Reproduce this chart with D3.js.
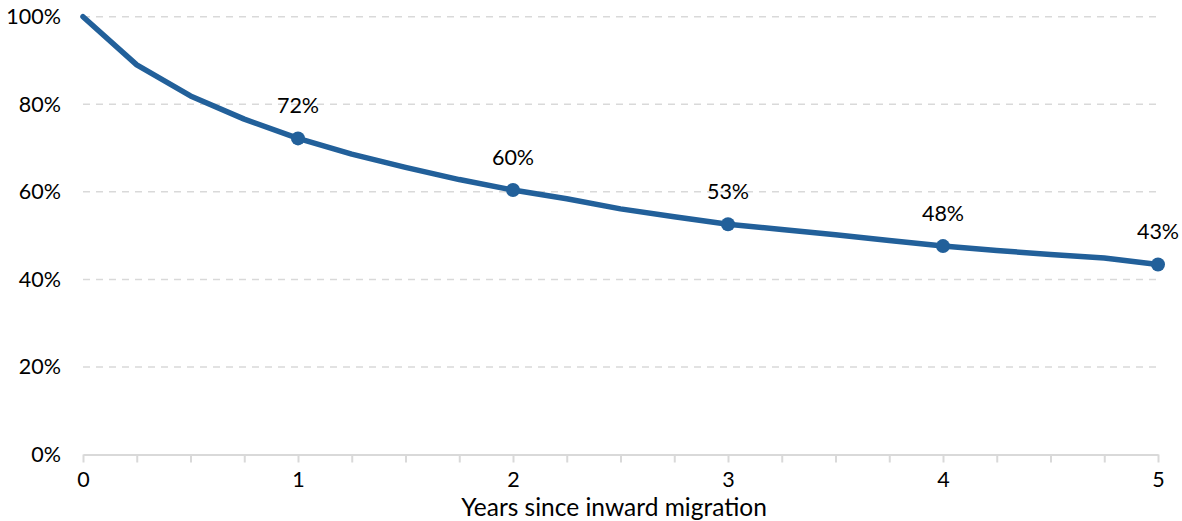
<!DOCTYPE html>
<html><head><meta charset="utf-8">
<script src="https://cdn.jsdelivr.net/npm/d3@7"></script>
<style>body{margin:0;background:#fff}svg{display:block;font-family:Lato,"Open Sans",sans-serif}</style>
</head><body><svg id="c" width="1182" height="521"></svg>
<script>
const years = [0,0.25,0.5,0.75,1,1.25,1.5,1.75,2,2.25,2.5,2.75,3,3.25,3.5,3.75,4,4.25,4.5,4.75,5];
const retention = [100,89.0,81.9,76.6,72.2,68.6,65.6,62.8,60.4,58.4,56.1,54.3,52.6,51.4,50.2,48.9,47.6,46.6,45.7,44.9,43.4];
const markerYears = [1,2,3,4,5];
const yTicks = [0,20,40,60,80,100];
const xTicks = [0,1,2,3,4,5];
const xMinorTicks = years;
const xTitle = "Years since inward migration";

const svg = d3.select("#c");
const x = d3.scaleLinear().domain([0,5]).range([83,1158]);
const y = d3.scaleLinear().domain([0,100]).range([454.5,16.7]);
const col = "#22609a", grid = "#d9d9d9";

svg.append("g").selectAll("line").data(yTicks.filter(d=>d>0)).join("line")
  .attr("x1",x(0)).attr("x2",x(5)).attr("y1",d=>y(d)).attr("y2",d=>y(d))
  .attr("stroke",grid).attr("stroke-width",1.5).attr("stroke-dasharray","7,6");

const yAxis = d3.axisLeft(y).tickValues(yTicks).tickFormat(d=>d+"%").tickSize(0).tickPadding(0);
const gy = svg.append("g").attr("transform","translate(61,0)").call(yAxis);
gy.select(".domain").remove();
gy.selectAll("text").attr("font-size",21.5).attr("fill","#000").attr("font-family","Lato");

const xAxis = d3.axisBottom(x).tickValues(xMinorTicks).tickFormat(d=>xTicks.includes(d)?d:"").tickSize(8).tickSizeOuter(0).tickPadding(9);
const gx = svg.append("g").attr("transform",`translate(0,${y(0)})`).call(xAxis);
gx.select(".domain").attr("stroke",grid).attr("stroke-width",2);
gx.selectAll(".tick line").attr("stroke",grid).attr("stroke-width",2);
gx.selectAll("text").attr("font-size",21.5).attr("fill","#000").attr("font-family","Lato");

svg.append("text").attr("x",614).attr("y",516).attr("text-anchor","middle")
  .attr("font-size",24.5).attr("fill","#000").text(xTitle);

const data = years.map((d,i)=>({x:d,v:retention[i]}));
svg.append("path").datum(data)
  .attr("d",d3.line().x(d=>x(d.x)).y(d=>y(d.v)))
  .attr("fill","none").attr("stroke",col).attr("stroke-width",5.5).attr("stroke-linejoin","round").attr("stroke-linecap","round");

const marks = data.filter(d=>markerYears.includes(d.x));
svg.append("g").selectAll("circle").data(marks).join("circle")
  .attr("cx",d=>x(d.x)).attr("cy",d=>y(d.v)).attr("r",7).attr("fill",col);
svg.append("g").selectAll("text").data(marks).join("text")
  .attr("x",d=>x(d.x)).attr("y",d=>y(d.v)-25).attr("text-anchor","middle")
  .attr("font-size",21.5).attr("fill","#000").text(d=>Math.round(d.v)+"%");
</script></body></html>
